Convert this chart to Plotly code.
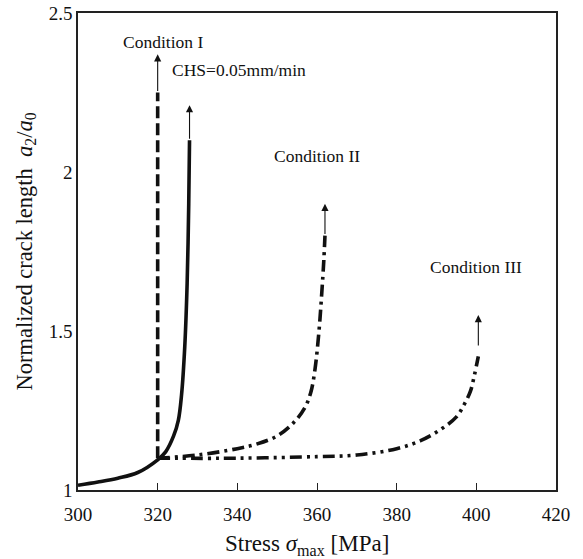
import plotly.graph_objects as go

# Data
chs_x = [300, 305, 310, 315, 320, 322, 324, 325.2, 326, 326.8, 327.4, 327.8, 328]
chs_y = [1.015, 1.025, 1.037, 1.055, 1.095, 1.12, 1.17, 1.22, 1.30, 1.45, 1.65, 1.9, 2.1]

c1_x = [320, 320]
c1_y = [1.10, 2.25]

c2_x = [320, 330, 340, 345, 350, 354, 357, 358.5, 359.5, 360.5, 361.2, 361.7, 362]
c2_y = [1.10, 1.11, 1.13, 1.145, 1.17, 1.21, 1.26, 1.31, 1.38, 1.50, 1.62, 1.72, 1.80]

c3_x = [320, 340, 360, 370, 380, 386, 391, 395, 397, 398.5, 399.5, 400.5]
c3_y = [1.10, 1.10, 1.105, 1.11, 1.13, 1.155, 1.19, 1.23, 1.27, 1.31, 1.36, 1.42]

# arrows: (x, y_start, y_end)
arrows = [(320, 2.25, 2.37), (328, 2.1, 2.21), (362, 1.80, 1.90), (400.5, 1.45, 1.55)]
labels = [("Condition I", 321.3, 2.41), ("CHS=0.05mm/min", 340.3, 2.32),
          ("Condition II", 360, 2.05), ("Condition III", 400, 1.70)]

x_ticks = [300, 320, 340, 360, 380, 400, 420]
y_ticks = [1, 1.5, 2, 2.5]
y_tick_text = ["1", "1.5", "2", "2.5"]

fig = go.Figure()
lw = 3.6
col = "#111111"
fig.add_trace(go.Scatter(x=c1_x, y=c1_y, mode="lines",
                         line=dict(color=col, width=lw, dash="12px,5px")))
fig.add_trace(go.Scatter(x=c2_x, y=c2_y, mode="lines",
                         line=dict(color=col, width=lw, dash="12px,5px,3px,5px", shape="spline")))
fig.add_trace(go.Scatter(x=c3_x, y=c3_y, mode="lines",
                         line=dict(color=col, width=lw, dash="12px,5px,3px,5px,3px,5px", shape="spline")))
fig.add_trace(go.Scatter(x=chs_x, y=chs_y, mode="lines",
                         line=dict(color=col, width=lw, shape="spline")))

ann = []
for (ax_, y0, y1) in arrows:
    ann.append(dict(x=ax_, y=y1, ax=ax_, ay=y0, xref="x", yref="y", axref="x", ayref="y",
                    showarrow=True, arrowhead=2, arrowsize=1.3, arrowwidth=1.1,
                    arrowcolor="#111", text=""))
for (t, x, y) in labels:
    ann.append(dict(x=x, y=y, xref="x", yref="y", text=t, showarrow=False,
                    font=dict(family="Liberation Serif", size=17.5, color="#111")))
# x-axis title
ann.append(dict(x=0.479, y=-0.115, xref="paper", yref="paper", xanchor="center",
                yanchor="middle", showarrow=False,
                text="Stress <i>σ</i><sub>max</sub> [MPa]",
                font=dict(family="Liberation Serif", size=23, color="#111")))

fig.update_layout(
    width=583, height=559,
    margin=dict(l=77.5, r=26.5, t=13, b=69),
    paper_bgcolor="white", plot_bgcolor="white",
    showlegend=False,
    font=dict(family="Liberation Serif", size=19, color="#111"),
    annotations=ann,
    xaxis=dict(range=[300, 420], tickvals=x_ticks, ticks="inside", ticklen=7, tickwidth=1.3,
               tickcolor="#222", showgrid=False, zeroline=False, showline=True, linecolor="#222",
               linewidth=1.6, mirror=True, ticklabelstandoff=6, automargin=False,
               ticklabeloverflow="allow", tickfont=dict(size=19)),
    yaxis=dict(range=[1, 2.5], tickvals=y_ticks, ticktext=y_tick_text, ticks="",
               showgrid=False, zeroline=False, showline=True, linecolor="#222",
               linewidth=1.6, mirror=True, automargin=False, tickfont=dict(size=19),
               ticklabeloverflow="allow",
               title=dict(text="Normalized crack length  <i>a</i><sub>2</sub>/<i>a</i><sub>0</sub>",
                          standoff=10, font=dict(size=22.5))),
)

fig.write_html("out.html", config={"displayModeBar": False},
               post_script="document.body.style.margin='0px';document.body.style.overflow='hidden';")
